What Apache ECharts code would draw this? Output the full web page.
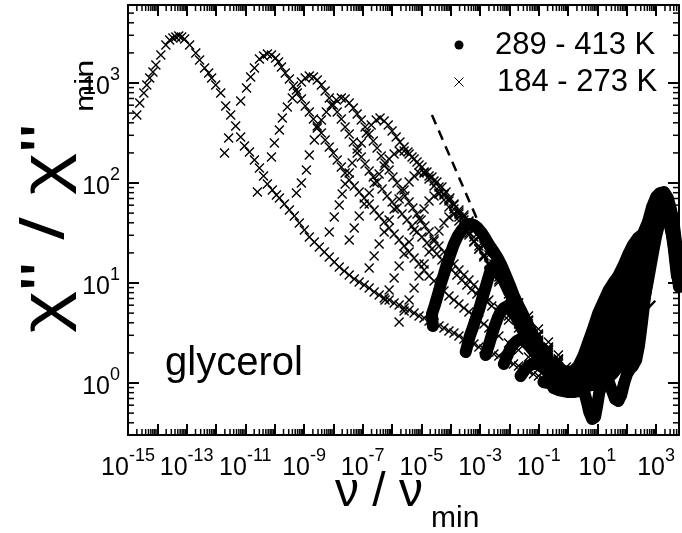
<!DOCTYPE html>
<html><head><meta charset="utf-8">
<script src="https://cdn.jsdelivr.net/npm/echarts@6.0.0/dist/echarts.min.js"></script>
<style>html,body{margin:0;padding:0;background:#fff}#c{width:682px;height:533px}</style>
</head><body><div id="c"></div>
<script>
// All values are log10(nu/nu_min) , log10(chi''/chi''_min)
const X_MIN = -15, X_MAX = 3.78, Y_MIN = -0.52, Y_MAX = 3.78;
const xLabelExponents = [-15,-13,-11,-9,-7,-5,-3,-1,1,3];
const yLabelExponents = [0,1,2,3];
const minorFactors = [2,3,4,5,6,7,8,9];

// 184 - 273 K (crosses)
const lowT1 = [[-14.70,2.68],[-14.60,2.80],[-14.46,2.90],[-14.36,2.98],[-14.26,3.05],[-14.15,3.11],[-14.05,3.18],[-13.88,3.28],[-13.71,3.38],[-13.58,3.43],[-13.47,3.45],[-13.37,3.46],[-13.27,3.47],[-13.17,3.46],[-13.07,3.44],[-12.90,3.38],[-12.69,3.30],[-12.56,3.23],[-12.39,3.15],[-12.25,3.10],[-12.15,3.05],[-12.01,2.98],[-11.84,2.90],[-11.67,2.77],[-11.50,2.68],[-11.33,2.57],[-11.16,2.46],[-11.03,2.37],[-10.86,2.31],[-10.69,2.23],[-10.52,2.15],[-10.38,2.07],[-10.25,1.99],[-10.08,1.93],[-9.94,1.88],[-9.84,1.85],[-9.67,1.79],[-9.50,1.73],[-9.33,1.67],[-9.16,1.60],[-8.99,1.53],[-8.82,1.46],[-8.65,1.41],[-8.48,1.36],[-8.31,1.31],[-8.14,1.26],[-7.97,1.21],[-7.80,1.16],[-7.63,1.12],[-7.46,1.08],[-7.29,1.04],[-7.12,1.01],[-6.95,0.98],[-6.78,0.95],[-6.61,0.91],[-6.44,0.88],[-6.27,0.85],[-6.10,0.83],[-5.93,0.80],[-5.76,0.78],[-5.59,0.75],[-5.42,0.73],[-5.25,0.70],[-5.08,0.67],[-4.91,0.65],[-4.74,0.62],[-4.57,0.60],[-4.40,0.57],[-4.23,0.55],[-4.06,0.52],[-3.89,0.50],[-3.72,0.47],[-3.55,0.44],[-3.38,0.41],[-3.21,0.39],[-3.04,0.36],[-2.87,0.34],[-2.70,0.31],[-2.53,0.29],[-2.36,0.27],[-2.19,0.24],[-2.03,0.22],[-1.86,0.19],[-1.69,0.17],[-1.52,0.14],[-1.35,0.12],[-1.18,0.09],[-1.01,0.07],[-0.84,0.04],[-0.67,0.02],[-0.50,-0.01],[-0.33,-0.03],[-0.16,-0.06]];
const lowT2 = [[-11.71,2.30],[-11.57,2.45],[-11.16,2.82],[-10.96,2.95],[-10.82,3.06],[-10.69,3.15],[-10.52,3.24],[-10.38,3.27],[-10.25,3.29],[-10.11,3.28],[-9.97,3.25],[-9.87,3.21],[-9.77,3.16],[-9.64,3.10],[-9.50,3.04],[-9.36,2.97],[-9.23,2.90],[-9.09,2.84],[-8.96,2.77],[-8.82,2.71],[-8.68,2.64],[-8.55,2.57],[-8.41,2.50],[-8.28,2.43],[-8.14,2.36],[-8.00,2.30],[-7.87,2.23],[-7.73,2.16],[-7.60,2.10],[-7.46,2.03],[-7.29,1.97],[-7.12,1.91],[-6.95,1.85],[-6.78,1.79],[-6.61,1.73],[-6.44,1.67],[-6.27,1.61],[-6.10,1.55],[-5.93,1.49],[-5.76,1.43],[-5.59,1.37],[-5.42,1.31],[-5.25,1.25],[-5.08,1.19],[-4.91,1.13],[-4.74,1.07],[-4.57,1.02],[-4.40,0.97],[-4.23,0.92],[-4.06,0.87],[-3.89,0.83],[-3.72,0.79],[-3.55,0.75],[-3.38,0.71],[-3.21,0.67],[-3.04,0.63],[-2.87,0.59],[-2.70,0.55],[-2.53,0.51],[-2.36,0.47],[-2.03,0.40],[-1.69,0.33],[-1.35,0.26],[-1.01,0.19],[-0.67,0.12],[-0.33,0.06]];
const lowT3 = [[-10.59,1.91],[-10.11,2.26],[-10.01,2.40],[-9.84,2.53],[-9.74,2.65],[-9.57,2.76],[-9.40,2.85],[-9.26,2.93],[-9.09,3.01],[-8.96,3.05],[-8.82,3.07],[-8.68,3.06],[-8.55,3.03],[-8.41,2.98],[-8.28,2.92],[-8.14,2.85],[-8.00,2.78],[-7.87,2.71],[-7.73,2.64],[-7.60,2.56],[-7.46,2.49],[-7.32,2.41],[-7.19,2.34],[-7.05,2.26],[-6.92,2.19],[-6.78,2.12],[-6.64,2.06],[-6.51,2.01],[-6.34,1.94],[-6.17,1.87],[-6.00,1.81],[-5.83,1.75],[-5.66,1.69],[-5.49,1.63],[-5.32,1.57],[-5.15,1.51],[-4.98,1.46],[-4.81,1.40],[-4.64,1.34],[-4.47,1.29],[-4.30,1.23],[-4.13,1.18],[-3.96,1.13],[-3.79,1.08],[-3.62,1.03],[-3.45,0.98],[-3.28,0.93],[-3.11,0.89],[-2.94,0.85],[-2.77,0.81],[-2.60,0.77],[-2.36,0.71],[-2.03,0.63],[-1.69,0.55],[-1.35,0.47],[-1.01,0.39],[-0.67,0.31],[-0.33,0.23],[-0.06,0.16]];
const lowT4 = [[-9.26,1.90],[-9.09,2.00],[-8.92,2.13],[-8.82,2.28],[-8.65,2.43],[-8.55,2.55],[-8.41,2.63],[-8.24,2.71],[-8.07,2.78],[-7.90,2.83],[-7.73,2.85],[-7.60,2.84],[-7.46,2.80],[-7.32,2.75],[-7.19,2.69],[-7.05,2.63],[-6.92,2.56],[-6.78,2.49],[-6.64,2.42],[-6.51,2.35],[-6.37,2.27],[-6.24,2.20],[-6.10,2.13],[-5.97,2.06],[-5.83,2.00],[-5.69,1.93],[-5.56,1.87],[-5.42,1.81],[-5.29,1.75],[-5.15,1.69],[-5.01,1.63],[-4.88,1.57],[-4.74,1.51],[-4.57,1.44],[-4.40,1.37],[-4.23,1.31],[-4.06,1.25],[-3.89,1.19],[-3.72,1.13],[-3.55,1.08],[-3.38,1.03],[-3.21,0.98],[-3.04,0.93],[-2.87,0.88],[-2.70,0.83],[-2.36,0.75],[-2.03,0.67],[-1.69,0.59],[-1.35,0.51],[-1.01,0.42],[-0.67,0.33],[-0.33,0.24]];
const lowT5 = [[-8.14,1.51],[-7.97,1.66],[-7.80,1.78],[-7.70,1.89],[-7.60,1.99],[-7.46,2.10],[-7.36,2.20],[-7.19,2.30],[-7.05,2.40],[-6.88,2.50],[-6.71,2.58],[-6.54,2.63],[-6.41,2.65],[-6.27,2.62],[-6.13,2.58],[-6.00,2.52],[-5.86,2.46],[-5.73,2.41],[-5.59,2.36],[-5.46,2.31],[-5.32,2.26],[-5.15,2.21],[-4.98,2.16],[-4.81,2.11],[-4.64,2.06],[-4.47,2.01],[-4.30,1.96],[-4.16,1.91],[-4.03,1.85],[-3.89,1.79],[-3.72,1.73],[-3.55,1.68],[-3.38,1.62],[-3.21,1.55],[-3.04,1.47],[-2.87,1.39],[-2.70,1.31],[-2.53,1.23],[-2.36,1.15],[-2.19,1.06],[-2.03,0.97],[-1.69,0.80],[-1.35,0.63],[-1.01,0.47],[-0.67,0.33],[-0.33,0.21]];
const lowT6 = [[-7.46,1.43],[-7.29,1.55],[-7.12,1.67],[-6.95,1.79],[-6.78,1.90],[-6.61,2.00],[-6.44,2.09],[-6.27,2.17],[-6.10,2.24],[-5.93,2.29],[-5.76,2.32],[-5.59,2.32],[-5.42,2.29],[-5.25,2.24],[-5.08,2.18],[-4.91,2.11],[-4.74,2.04],[-4.57,1.97],[-4.40,1.90],[-4.23,1.83],[-4.06,1.76],[-3.89,1.69],[-3.72,1.62],[-3.55,1.55],[-3.38,1.48],[-3.21,1.41],[-3.04,1.34],[-2.87,1.27],[-2.70,1.20],[-2.36,1.06],[-2.03,0.93],[-1.69,0.80],[-1.35,0.67],[-1.01,0.54],[-0.67,0.41],[-0.33,0.28]];
const lowT7 = [[-6.78,1.15],[-6.61,1.27],[-6.44,1.39],[-6.27,1.51],[-6.10,1.63],[-5.93,1.74],[-5.76,1.84],[-5.59,1.93],[-5.42,2.01],[-5.25,2.07],[-5.08,2.10],[-4.91,2.10],[-4.74,2.07],[-4.57,2.02],[-4.40,1.96],[-4.23,1.89],[-4.06,1.82],[-3.89,1.74],[-3.72,1.66],[-3.55,1.58],[-3.38,1.50],[-3.21,1.42],[-3.04,1.34],[-2.87,1.26],[-2.70,1.18],[-2.36,1.03],[-2.03,0.89],[-1.69,0.75],[-1.35,0.62],[-1.01,0.49],[-0.67,0.36],[-0.33,0.24]];
const lowT8 = [[-6.24,0.83],[-6.10,0.93],[-5.93,1.05],[-5.76,1.17],[-5.59,1.29],[-5.42,1.41],[-5.25,1.53],[-5.08,1.64],[-4.91,1.74],[-4.74,1.82],[-4.57,1.87],[-4.40,1.89],[-4.23,1.88],[-4.06,1.84],[-3.89,1.78],[-3.72,1.71],[-3.55,1.63],[-3.38,1.55],[-3.21,1.46],[-3.04,1.37],[-2.87,1.28],[-2.70,1.19],[-2.53,1.10],[-2.36,1.01],[-2.03,0.85],[-1.69,0.70],[-1.35,0.56],[-1.01,0.43],[-0.67,0.30],[-0.33,0.19]];
const lowT9 = [[-5.76,0.61],[-5.59,0.72],[-5.42,0.83],[-5.25,0.95],[-5.08,1.07],[-4.91,1.19],[-4.74,1.31],[-4.57,1.42],[-4.40,1.52],[-4.23,1.60],[-4.06,1.66],[-3.89,1.69],[-3.72,1.69],[-3.55,1.66],[-3.38,1.61],[-3.21,1.54],[-3.04,1.46],[-2.87,1.37],[-2.70,1.28],[-2.53,1.19],[-2.36,1.10],[-2.03,0.93],[-1.69,0.77],[-1.35,0.62],[-1.01,0.48],[-0.67,0.35],[-0.33,0.23]];

// 289 - 413 K (dots)
const highT1 = [[-4.61,0.57],[-4.64,0.69],[-4.54,0.78],[-4.44,0.88],[-4.34,0.99],[-4.23,1.09],[-4.13,1.19],[-4.00,1.30],[-3.89,1.39],[-3.76,1.47],[-3.62,1.53],[-3.49,1.57],[-3.35,1.59],[-3.21,1.58],[-3.08,1.55],[-2.94,1.50],[-2.81,1.44],[-2.67,1.37],[-2.53,1.31],[-2.40,1.25],[-2.26,1.17],[-2.13,1.08],[-1.99,0.98],[-1.86,0.88],[-1.72,0.79],[-1.58,0.71],[-1.45,0.63],[-1.31,0.55],[-1.18,0.47],[-1.01,0.38],[-0.84,0.30],[-0.67,0.23],[-0.50,0.18],[-0.33,0.14],[-0.16,0.12],[0.01,0.11],[0.18,0.12],[0.35,0.17],[0.52,0.27],[0.69,0.41],[0.86,0.55],[1.03,0.70],[1.20,0.81],[1.37,0.92],[1.54,1.00],[1.71,1.07],[1.88,1.17],[2.04,1.28],[2.21,1.38],[2.38,1.45],[2.55,1.49],[2.72,1.61],[2.86,1.76],[3.00,1.86],[3.13,1.90],[3.27,1.91],[3.40,1.85],[3.51,1.73],[3.61,1.57],[3.71,1.33],[3.78,1.15]];
const highT2 = [[-3.49,0.31],[-3.42,0.39],[-3.35,0.47],[-3.25,0.55],[-3.15,0.64],[-3.04,0.73],[-2.94,0.83],[-2.84,0.93],[-2.74,1.03],[-2.67,1.10],[-2.57,1.15],[-2.47,1.14],[-2.33,1.09],[-2.19,1.02],[-2.06,0.94],[-1.92,0.86],[-1.79,0.78],[-1.65,0.70],[-1.52,0.62],[-1.38,0.54],[-1.24,0.46],[-1.11,0.38],[-0.97,0.31],[-0.84,0.25],[-0.67,0.18],[-0.50,0.13],[-0.33,0.09],[-0.16,0.07],[0.01,0.06],[0.18,0.07],[0.35,0.09],[0.52,0.13],[0.69,0.20],[0.86,0.29],[1.03,0.41],[1.20,0.55],[1.37,0.69],[1.54,0.82],[1.71,0.93],[1.88,1.03],[2.04,1.14],[2.21,1.24],[2.38,1.33],[2.55,1.41],[2.72,1.52],[2.86,1.67],[3.00,1.80],[3.13,1.86],[3.27,1.87],[3.40,1.82],[3.51,1.70],[3.61,1.53],[3.71,1.28],[3.78,1.11]];
const highT3 = [[-2.81,0.28],[-2.70,0.38],[-2.60,0.48],[-2.50,0.57],[-2.40,0.65],[-2.30,0.71],[-2.19,0.75],[-2.06,0.77],[-1.96,0.75],[-1.82,0.69],[-1.69,0.61],[-1.55,0.53],[-1.41,0.45],[-1.28,0.38],[-1.14,0.31],[-1.01,0.25],[-0.84,0.19],[-0.67,0.14],[-0.50,0.10],[-0.33,0.06],[-0.16,0.04],[0.01,0.02],[0.18,0.03],[0.35,0.04],[0.52,0.08],[0.69,0.14],[0.86,0.22],[1.03,0.33],[1.20,0.45],[1.37,0.58],[1.54,0.70],[1.71,0.80],[1.88,0.90],[2.04,1.01],[2.21,1.12],[2.38,1.22],[2.55,1.32],[2.72,1.44],[2.86,1.59],[3.00,1.74],[3.13,1.82],[3.27,1.84],[3.40,1.79],[3.51,1.67],[3.61,1.49],[3.71,1.23],[3.78,1.07]];
const highT4 = [[-2.19,0.19],[-2.09,0.26],[-1.99,0.33],[-1.89,0.38],[-1.75,0.42],[-1.62,0.44],[-1.48,0.42],[-1.35,0.38],[-1.21,0.33],[-1.07,0.28],[-0.94,0.23],[-0.80,0.18],[-0.67,0.14],[-0.50,0.09],[-0.33,0.05],[-0.16,0.02],[0.01,-0.01],[0.18,-0.02],[0.35,-0.01],[0.52,0.02],[0.69,0.07],[0.86,0.14],[1.03,0.24],[1.20,0.35],[1.37,0.47],[1.54,0.58],[1.71,0.67],[1.88,0.77],[2.04,0.88],[2.21,0.99],[2.38,1.11],[2.55,1.23],[2.72,1.36],[2.86,1.52],[3.00,1.68],[3.13,1.78],[3.27,1.81],[3.40,1.76],[3.51,1.64],[3.61,1.45],[3.71,1.18],[3.78,1.03]];
const highT5 = [[-1.62,0.07],[-1.48,0.13],[-1.35,0.17],[-1.21,0.19],[-1.07,0.19],[-0.94,0.17],[-0.80,0.14],[-0.67,0.10],[-0.50,0.06],[-0.33,0.02],[-0.16,-0.01],[0.01,-0.04],[0.18,-0.06],[0.35,-0.06],[0.52,-0.04],[0.69,0.00],[0.86,0.06],[1.03,0.14],[1.20,0.24],[1.37,0.35],[1.54,0.46],[1.71,0.56],[1.88,0.65],[2.04,0.75],[2.21,0.86],[2.38,0.99],[2.55,1.13],[2.72,1.28],[2.86,1.45],[3.00,1.62],[3.13,1.74],[3.27,1.78],[3.40,1.73],[3.51,1.61],[3.61,1.41],[3.71,1.15],[3.78,1.00]];
const highT6 = [[-0.84,0.01],[-0.67,0.00],[-0.50,-0.02],[-0.33,-0.05],[-0.16,-0.07],[0.01,-0.08],[0.18,-0.08],[0.35,-0.07],[0.52,-0.05],[0.69,-0.03],[0.86,0.00],[1.03,0.05],[1.20,0.13],[1.37,0.23],[1.54,0.34],[1.71,0.44],[1.88,0.53],[2.04,0.63],[2.21,0.74],[2.38,0.86],[2.55,1.01],[2.72,1.19],[2.86,1.38],[3.00,1.57],[3.13,1.70],[3.27,1.75],[3.40,1.70],[3.51,1.57],[3.61,1.37],[3.71,1.11],[3.78,0.96]];
const highT7 = [[-0.50,-0.05],[-0.33,-0.07],[-0.16,-0.08],[0.01,-0.09],[0.18,-0.09],[0.35,-0.08],[0.48,-0.08],[0.58,-0.12],[0.65,-0.20],[0.72,-0.29],[0.82,-0.36],[0.92,-0.34],[0.99,-0.23],[1.06,-0.10],[1.16,0.00],[1.30,0.06],[1.43,0.13],[1.57,0.21],[1.71,0.31],[1.88,0.42],[2.04,0.52],[2.21,0.63],[2.38,0.75],[2.55,0.91],[2.72,1.11],[2.86,1.31],[3.00,1.51],[3.13,1.66],[3.27,1.72],[3.40,1.67],[3.51,1.54],[3.61,1.33],[3.71,1.07]];
const highT8 = [[-0.33,-0.03],[-0.16,-0.05],[0.01,-0.06],[0.18,-0.05],[0.35,-0.04],[0.52,-0.03],[0.69,-0.01],[0.86,0.01],[1.03,0.02],[1.16,0.04],[1.30,0.04],[1.40,0.00],[1.50,-0.08],[1.60,-0.16],[1.71,-0.18],[1.81,-0.12],[1.91,0.00],[2.01,0.09],[2.11,0.14],[2.21,0.17],[2.32,0.23],[2.42,0.38],[2.52,0.61],[2.62,0.86],[2.72,1.07],[2.83,1.28],[2.93,1.48],[3.03,1.62],[3.17,1.70],[3.30,1.70],[3.44,1.61],[3.57,1.45],[3.71,1.21]];
const highT9 = [[0.86,-0.02],[1.03,-0.01],[1.20,0.01],[1.37,0.05],[1.54,0.10],[1.71,0.16],[1.88,0.23],[2.04,0.31],[2.21,0.41],[2.38,0.55],[2.55,0.77],[2.72,1.02],[2.86,1.25],[3.00,1.47],[3.13,1.62],[3.27,1.69],[3.40,1.64]];

// dashed guide lines
const dashLeft = [[-4.64,2.68],[-2.75,1.40]];
const dashRight = [[1.54,0.38],[3.06,0.85]];

const FONT = "'Liberation Sans', Arial, Helvetica, sans-serif";
const lowTCurves = [lowT1,lowT2,lowT3,lowT4,lowT5,lowT6,lowT7,lowT8,lowT9];
const highTCurves = [highT1,highT2,highT3,highT4,highT5,highT6,highT7,highT8,highT9];
const CROSS = 'path://M0,0L10,10M10,0L0,10';

const xMinorTicks = [];
for (let n = Math.floor(X_MIN); n <= Math.ceil(X_MAX); n++) for (const k of minorFactors) { const v = n + Math.log10(k); if (v > X_MIN && v < X_MAX) xMinorTicks.push([v, Y_MIN]); }
const yMinorTicks = [];
for (let n = Math.floor(Y_MIN); n <= Math.ceil(Y_MAX); n++) for (const k of minorFactors) { const v = n + Math.log10(k); if (v > Y_MIN && v < Y_MAX) yMinorTicks.push([X_MIN, v]); }

function isInt(v){ return Math.abs(v - Math.round(v)) < 1e-6; }
const labelRich = {
  b: { fontSize: 25, fontFamily: FONT, color: '#000', lineHeight: 34, verticalAlign: 'bottom' },
  s: { fontSize: 18, fontFamily: FONT, color: '#000', lineHeight: 12, verticalAlign: 'top' }
};
const axisLineStyle = { show: true, onZero: false, lineStyle: { color: '#000', width: 2 } };
const majorTick = { show: true, inside: true, length: 11, lineStyle: { color: '#000', width: 2 } };

const series = [];
series.push({ type: 'line', data: dashLeft, symbol: 'none', z: 1, silent: true, lineStyle: { color: '#000', width: 2.5, type: [10, 7] } });
series.push({ type: 'line', data: dashRight, symbol: 'none', z: 1, silent: true, lineStyle: { color: '#000', width: 2.5, type: [10, 7] } });
lowTCurves.forEach(d => series.push({ type: 'scatter', data: d, symbol: CROSS, symbolSize: 9, z: 2, silent: true,
  itemStyle: { color: 'none', borderColor: '#000', borderWidth: 1.4, opacity: 1 } }));
highTCurves.forEach(d => series.push({ type: 'line', data: d, symbol: 'circle', symbolSize: 11, showSymbol: true, showAllSymbol: true, z: 3, silent: true,
  itemStyle: { color: '#000' }, lineStyle: { color: '#000', width: 12, cap: 'round', join: 'round' } }));
series.push({ type: 'custom', data: xMinorTicks, clip: false, silent: true, z: 10,
  renderItem: (params, api) => {
    const v = api.value(0); const b = api.coord([v, Y_MIN]); const t = api.coord([v, Y_MAX]);
    return { type: 'group', children: [
      { type: 'line', shape: { x1: b[0], y1: b[1], x2: b[0], y2: b[1] - 6 }, style: { stroke: '#000', lineWidth: 1.5 } },
      { type: 'line', shape: { x1: t[0], y1: t[1], x2: t[0], y2: t[1] + 6 }, style: { stroke: '#000', lineWidth: 1.5 } } ] };
  } });
series.push({ type: 'custom', data: yMinorTicks, clip: false, silent: true, z: 10,
  renderItem: (params, api) => {
    const v = api.value(1); const l = api.coord([X_MIN, v]); const r = api.coord([X_MAX, v]);
    return { type: 'group', children: [
      { type: 'line', shape: { x1: l[0], y1: l[1], x2: l[0] + 6, y2: l[1] }, style: { stroke: '#000', lineWidth: 1.5 } },
      { type: 'line', shape: { x1: r[0], y1: r[1], x2: r[0] - 6, y2: r[1] }, style: { stroke: '#000', lineWidth: 1.5 } } ] };
  } });

const chart = echarts.init(document.getElementById('c'), null, { renderer: 'canvas' });
chart.setOption({
  animation: false,
  backgroundColor: '#fff',
  grid: { left: 128, right: 1, top: 5, bottom: 98, containLabel: false },
  xAxis: [
    { type: 'value', min: X_MIN, max: X_MAX, interval: 1, position: 'bottom', axisLine: axisLineStyle, axisTick: majorTick, splitLine: { show: false },
      axisLabel: { margin: 12, rich: labelRich,
        formatter: v => (isInt(v) && xLabelExponents.indexOf(Math.round(v)) >= 0) ? '{b|10}{s|' + Math.round(v) + '}' : '' } },
    { type: 'value', min: X_MIN, max: X_MAX, interval: 1, position: 'top', axisLine: axisLineStyle, axisTick: majorTick, splitLine: { show: false }, axisLabel: { show: false } }
  ],
  yAxis: [
    { type: 'value', min: Y_MIN, max: Y_MAX, splitNumber: 4, minInterval: 1, maxInterval: 1, position: 'left', axisLine: axisLineStyle, axisTick: majorTick, splitLine: { show: false },
      axisLabel: { margin: 8, rich: labelRich,
        formatter: v => (isInt(v) && yLabelExponents.indexOf(Math.round(v)) >= 0) ? '{b|10}{s|' + Math.round(v) + '}' : '' } },
    { type: 'value', min: Y_MIN, max: Y_MAX, splitNumber: 4, minInterval: 1, maxInterval: 1, position: 'right', axisLine: axisLineStyle, axisTick: majorTick, splitLine: { show: false }, axisLabel: { show: false } }
  ],
  series: series,
  graphic: [
    { type: 'text', x: 46, y: 333, rotation: Math.PI / 2, scaleX: 1.3, silent: true,
      style: { text: 'χ" / χ"', fontSize: 62, fontFamily: FONT, fill: '#000', align: 'left', verticalAlign: 'middle' } },
    { type: 'text', x: 86, y: 112, rotation: Math.PI / 2, scaleX: 1.3, silent: true,
      style: { text: 'min', fontSize: 25, fontFamily: FONT, fill: '#000', align: 'left', verticalAlign: 'middle' } },
    { type: 'text', x: 335, y: 493, silent: true,
      style: { text: 'ν / ν', fontSize: 48, fontFamily: FONT, fill: '#000', align: 'left', verticalAlign: 'middle' } },
    { type: 'text', x: 431, y: 519, silent: true,
      style: { text: 'min', fontSize: 30, fontFamily: FONT, fill: '#000', align: 'left', verticalAlign: 'middle' } },
    { type: 'text', x: 165, y: 364, silent: true,
      style: { text: 'glycerol', fontSize: 40, fontFamily: FONT, fill: '#000', align: 'left', verticalAlign: 'middle' } },
    { type: 'circle', shape: { cx: 459, cy: 45, r: 4.5 }, style: { fill: '#000' }, silent: true },
    { type: 'text', x: 495, y: 45, silent: true,
      style: { text: '289 - 413 K', fontSize: 31, fontFamily: FONT, fill: '#000', align: 'left', verticalAlign: 'middle' } },
    { type: 'line', shape: { x1: 454.5, y1: 77.5, x2: 463.5, y2: 86.5 }, style: { stroke: '#000', lineWidth: 1 }, silent: true },
    { type: 'line', shape: { x1: 463.5, y1: 77.5, x2: 454.5, y2: 86.5 }, style: { stroke: '#000', lineWidth: 1 }, silent: true },
    { type: 'text', x: 497, y: 82, silent: true,
      style: { text: '184 - 273 K', fontSize: 31, fontFamily: FONT, fill: '#000', align: 'left', verticalAlign: 'middle' } }
  ]
});
</script></body></html>
